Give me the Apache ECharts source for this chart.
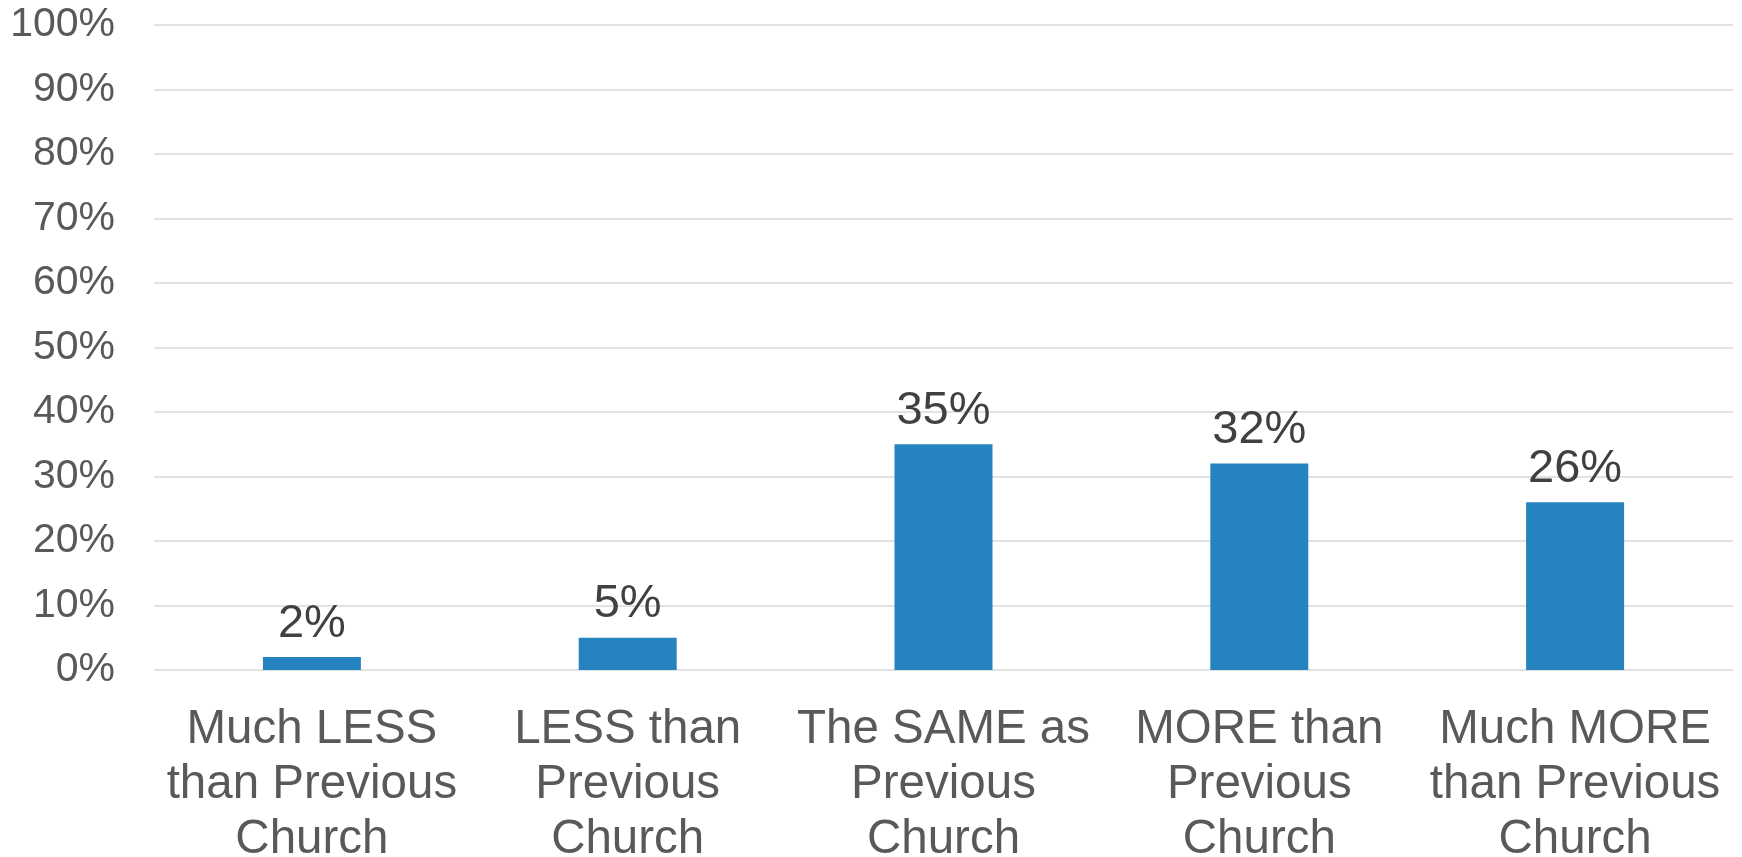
<!DOCTYPE html>
<html>
<head>
<meta charset="utf-8">
<script src="https://cdn.jsdelivr.net/npm/echarts@6/dist/echarts.min.js"></script>
<style>
html,body{margin:0;padding:0;background:#fff;}
#chart{width:1742px;height:857px;}
</style>
</head>
<body>
<div id="chart"></div>
<script>
const categories = [
  "Much LESS\nthan Previous\nChurch",
  "LESS than\nPrevious\nChurch",
  "The SAME as\nPrevious\nChurch",
  "MORE than\nPrevious\nChurch",
  "Much MORE\nthan Previous\nChurch"
];
const values = [2, 5, 35, 32, 26];
const yMin = 0, yMax = 100, yStep = 10;

const FONT = "'Liberation Sans', Arial, sans-serif";
const chart = echarts.init(document.getElementById('chart'), null, {renderer: 'canvas'});
chart.setOption({
  backgroundColor: '#ffffff',
  animation: false,
  grid: {left: 154, right: 9, top: 25, bottom: 187, containLabel: false, outerBoundsMode: 'none'},
  xAxis: {
    type: 'category',
    data: categories,
    axisLine: {show: false},
    axisTick: {show: false},
    axisLabel: {
      interval: 0,
      margin: 32,
      color: '#595959',
      fontSize: 47.5,
      lineHeight: 55,
      fontFamily: FONT
    }
  },
  yAxis: {
    type: 'value',
    min: yMin, max: yMax, interval: yStep,
    axisLine: {show: false},
    axisTick: {show: false},
    axisLabel: {
      formatter: '{value}%',
      margin: 39,
      color: '#595959',
      fontSize: 41,
      fontFamily: FONT
    },
    splitLine: {lineStyle: {color: '#d9d9d9', width: 1.5}}
  },
  series: [{
    type: 'bar',
    data: values,
    barWidth: 98,
    itemStyle: {color: '#2584bf'},
    label: {
      show: true,
      position: 'top',
      distance: 10,
      formatter: '{c}%',
      color: '#404040',
      fontSize: 47,
      fontFamily: FONT
    }
  }]
});
</script>
</body>
</html>
